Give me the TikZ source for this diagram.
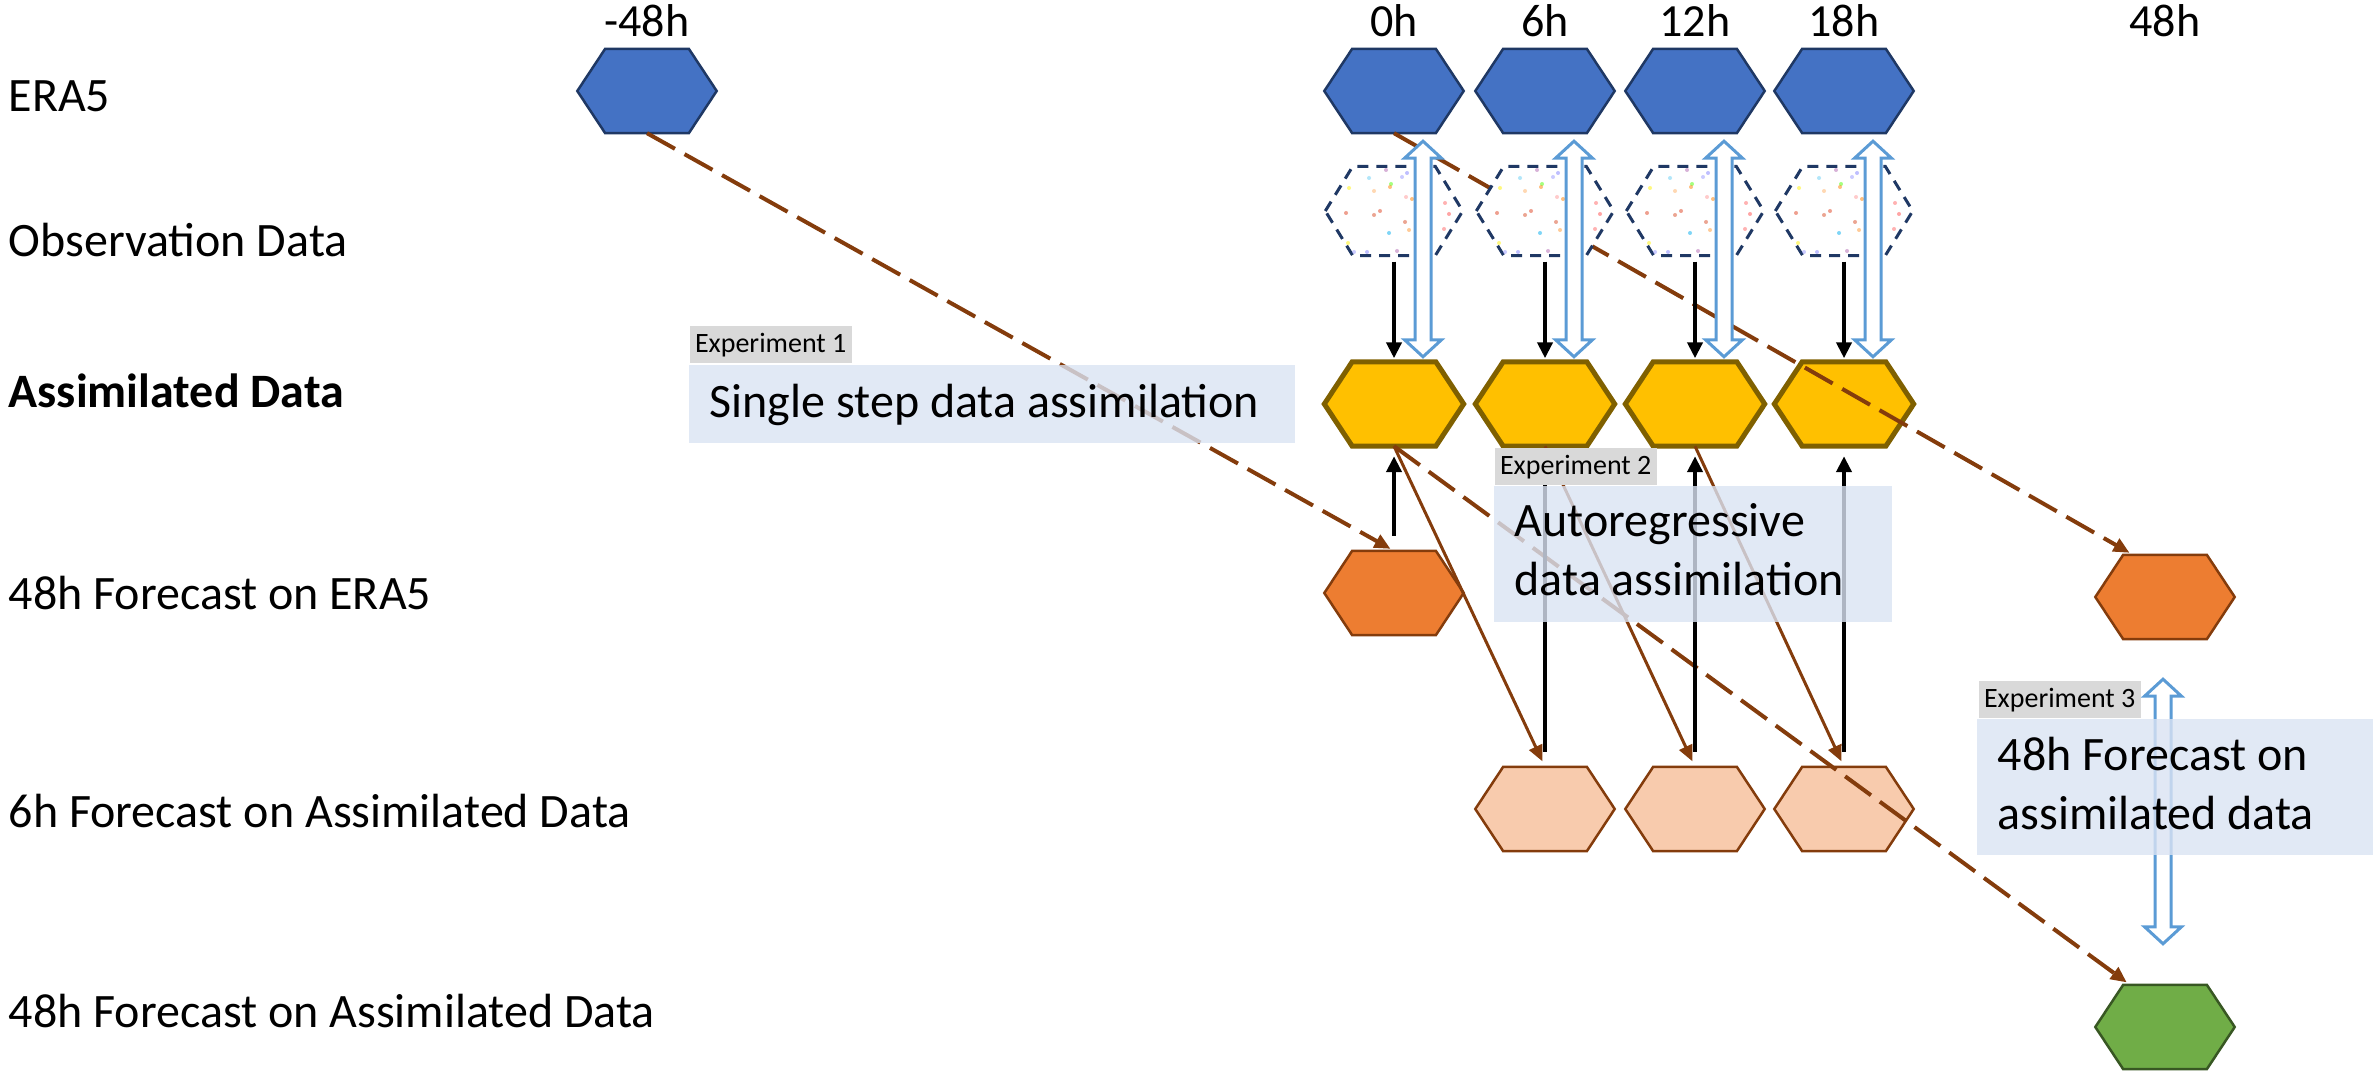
\documentclass[tikz,border=0pt]{standalone}
\usepackage{fontspec}
\setmainfont{Carlito}
\usetikzlibrary{calc,arrows.meta}
\definecolor{eraBlue}{HTML}{4472C4}
\definecolor{navy}{HTML}{1F3864}
\definecolor{gold}{HTML}{FFC000}
\definecolor{goldEdge}{HTML}{7F6000}
\definecolor{fcOrange}{HTML}{ED7D31}
\definecolor{rust}{HTML}{843C0C}
\definecolor{peach}{HTML}{F8CBAD}
\definecolor{fcGreen}{HTML}{70AD47}
\definecolor{greenEdge}{HTML}{385723}
\definecolor{skyEdge}{HTML}{5B9BD5}
\definecolor{boxBlue}{HTML}{DAE3F3}
\definecolor{tagGray}{HTML}{D9D9D9}

\begin{document}
\begin{tikzpicture}[x=0.1mm,y=-0.1mm,
  hexbox/.style={minimum width=13.8mm,minimum height=8.3mm,inner sep=0pt},
  hexa/.style={insert path={(#1.west) -- ($(#1.north west)!.2!(#1.north east)$)
    -- ($(#1.north west)!.8!(#1.north east)$) -- (#1.east)
    -- ($(#1.south west)!.8!(#1.south east)$) -- ($(#1.south west)!.2!(#1.south east)$) -- cycle}},
  era/.style={fill=eraBlue,draw=navy,line width=0.25mm},
  obs/.style={fill=white,draw=navy,line width=0.3mm,dash pattern=on 1.1mm off 0.8mm},
  asm/.style={fill=gold,draw=goldEdge,line width=0.5mm},
  fcera/.style={fill=fcOrange,draw=rust,line width=0.25mm},
  fcsix/.style={fill=peach,draw=rust,line width=0.25mm},
  fcasm/.style={fill=fcGreen,draw=greenEdge,line width=0.25mm},
  rowlbl/.style={font=\fontsize{13.66}{16.8}\selectfont,anchor=base west,inner sep=0pt},
  timelbl/.style={font=\fontsize{13.1}{15.7}\selectfont,anchor=base,inner sep=0pt},
  blk/.style={line width=0.4mm,-{Triangle[length=1.6mm,width=1.5mm]}},
  rustarr/.style={draw=rust,line width=0.3mm,-{Triangle[length=1.6mm,width=1.4mm]}},
  rustdash/.style={rustarr,line width=0.4mm,dash pattern=on 3.2mm off 1.1mm,shorten >=0.4mm},
  hollow/.style={draw=skyEdge,fill=white,line width=0.3mm},
  tagbox/.style={fill=tagGray,minimum width=16.2mm,minimum height=3.7mm,inner sep=0pt,
    anchor=south west,font=\fontsize{7.97}{9.6}\selectfont},
  expbox/.style={fill=boxBlue,fill opacity=0.8,inner sep=0pt,anchor=north west}]
  \useasboundingbox (0,0) rectangle (2377,1074);

  \foreach \y/\t [count=\i] in {112/ERA5,257/Observation Data,610/48h Forecast on ERA5,
      827/6h Forecast on Assimilated Data,1027/48h Forecast on Assimilated Data}
    \node[rowlbl] (row\i) at (8,\y) {\t};
  \node[rowlbl,font=\fontsize{13.66}{16.8}\selectfont\bfseries] (rowA) at (8,408) {Assimilated Data};
  \foreach \x/\t [count=\i] in {647/-48h,1394/0h,1545/6h,1695/12h,1844/18h,2165/48h}
    \node[timelbl] (time\i) at (\x,37) {\t};

  \foreach \c/\x in {0/1394,6/1545,12/1695,18/1844}{
    \node[hexbox] (e\c) at (\x,91) {};
    \node[hexbox,minimum width=13.6mm,minimum height=8.8mm] (o\c) at (\x,211) {};
    \node[hexbox] (a\c) at (\x,404) {};
  }
  \node[hexbox] (e48m) at (647,91) {};
  \node[hexbox] (fe0) at (1394,593) {};
  \node[hexbox] (fe48) at (2165,597) {};
  \node[hexbox] (fc6) at (1545,809) {};
  \node[hexbox] (fc12) at (1695,809) {};
  \node[hexbox] (fc18) at (1844,809) {};
  \node[hexbox] (fa48) at (2165,1027) {};

  \foreach \n/\s in {e48m/era,e0/era,e6/era,e12/era,e18/era,a0/asm,a6/asm,a12/asm,a18/asm,
      fe0/fcera,fe48/fcera,fc6/fcsix,fc12/fcsix,fc18/fcsix,fa48/fcasm}
    \draw[\s,hexa=\n];

  \foreach \a/\f in {a0/fc6,a6/fc12,a12/fc18}
    \draw[rustarr,shorten >=0.6mm] (\a.south) -- (\f.north);
  \draw[rustdash] (e48m.south) -- (fe0.north);
  \draw[rustdash] (e0.south) -- ($(fe48.north)+(-32,0)$);
  \draw[rustdash] (a0.south) -- ($(fa48.north)+(-35,0)$);

  \foreach \c in {0,6,12,18}{
    \draw[obs,hexa=o\c];
    \foreach \dx/\dy/\col in {-25/-33/cyan!60,-8/-41/violet!60,13/-38/blue!50,8/-34/blue!40,
        -3/-27/green!70!yellow,-4/-24/orange,-45/-23/yellow,-20/-20/orange!60,12/-14/red!40,
        18/-12/orange,-48/2/red!50!brown,-20/4/red!40!brown,-14/0/red!50!brown,11/11/red!40!brown,
        15/19/orange!80,-5/22/cyan,-46/32/yellow,-27/41/blue!50,3/40/violet!60,-40/41/blue!40,
        51/-8/red!60,55/3/red!70,50/18/red!60}
      \fill[\col,opacity=.5] ($(o\c)+(\dx,\dy)$) circle (0.2mm);
  }

  \foreach \c in {0,6,12,18}
    \draw[blk,shorten <=0.6mm,shorten >=0.35mm] (o\c.south) -- (a\c.north);
  \foreach \f/\a in {fe0/a0,fc6/a6,fc12/a12,fc18/a18}
    \draw[blk,shorten <=1.5mm,shorten >=1mm] (\f.north) -- (\a.south);

  \foreach \c in {0,6,12,18}{
    \coordinate (up\c) at ($(e\c.south)+(29,8)$);
    \coordinate (dn\c) at ($(a\c.north)+(29,-5)$);
  }
  \coordinate (up48) at ($(fe48.south)+(-2,40)$);
  \coordinate (dn48) at ($(fa48.north)+(-2,-41)$);
  \foreach \c in {0,6,12,18,48}
    \draw[hollow] (up\c) -- ++(18.5,17) -- ++(-10.5,0) -- ($(dn\c)+(8,-17)$) -- ++(10.5,0)
      -- (dn\c) -- ++(-18.5,-17) -- ++(10.5,0) -- ($(up\c)+(-8,17)$) -- ++(-10.5,0) -- cycle;

  \node[expbox,minimum width=60.6mm,minimum height=7.8mm] (box1) at (688,364) {};
  \node[expbox,minimum width=39.8mm,minimum height=13.6mm] (box2) at (1493,485) {};
  \node[expbox,minimum width=39.6mm,minimum height=13.6mm] (box3) at (1976,718) {};
  \node[tagbox] (tag1) at (689,364) {Experiment 1};
  \node[tagbox] (tag2) at (1494,486) {Experiment 2};
  \node[tagbox] (tag3) at (1978,719) {Experiment 3};
  \node[rowlbl] (txt1) at (709,418) {Single step data assimilation};
  \node[rowlbl,align=left] (txt2) at (1514,596) {Autoregressive\\data assimilation};
  \node[rowlbl,align=left] (txt3) at (1997,830) {48h Forecast on\\assimilated data};
\end{tikzpicture}
\end{document}
